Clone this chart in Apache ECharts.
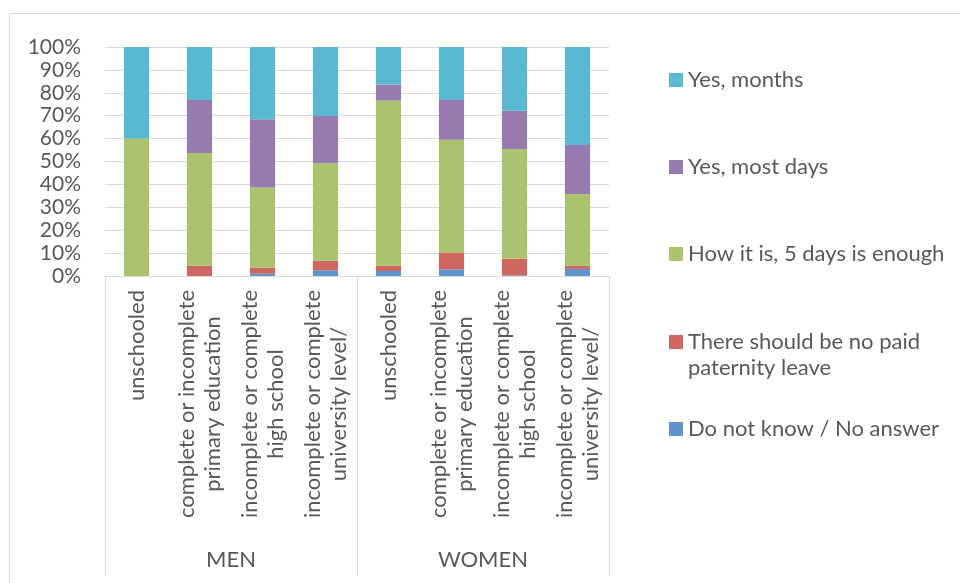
<!DOCTYPE html>
<html>
<head>
<meta charset="utf-8">
<script src="https://cdn.jsdelivr.net/npm/echarts@6/dist/echarts.min.js"></script>
<style>
  html, body { margin: 0; padding: 0; background: #fff; }
  #chart { width: 960px; height: 583px; }
</style>
</head>
<body>
<div id="chart"></div>
<script>
// Education levels, shown once for men and once for women
const educationLevels = [
  'unschooled',
  'complete or incomplete\nprimary education',
  'incomplete or complete\nhigh school',
  'incomplete or complete\nuniversity level/'
];
const groups = ['MEN', 'WOMEN'];
const categories = groups.flatMap(() => educationLevels);

// Answer shares (%), one value per bar, MEN first then WOMEN
const doNotKnow = [0, 0, 1.0, 2.5, 2.2, 2.9, 0.3, 3.1];
const noPaidLeave = [0, 4.5, 2.6, 4.2, 2.3, 7.4, 7.3, 1.4];
const fiveDaysEnough = [60.0, 49.2, 35.0, 42.5, 72.1, 49.2, 47.9, 31.3];
const yesMostDays = [0, 23.2, 29.8, 20.7, 7.0, 17.4, 16.7, 21.4];
const yesMonths = [40.0, 23.1, 31.6, 30.1, 16.4, 23.1, 27.8, 42.8];

const yTicks = { min: 0, max: 100, step: 10 };

const seriesDefs = [
  { name: 'Do not know / No answer', data: doNotKnow, color: '#5E94CA' },
  { name: 'There should be no paid\npaternity leave', data: noPaidLeave, color: '#CF6761' },
  { name: 'How it is, 5 days is enough', data: fiveDaysEnough, color: '#AAC36C' },
  { name: 'Yes, most days', data: yesMostDays, color: '#957BB0' },
  { name: 'Yes, months', data: yesMonths, color: '#5AB9D1' }
];

const FONT = 'Lato';
const TEXT = '#595959';
const LINE = '#D9D9D9';
const FS = 22;
const LH = 26;

// One legend block per series so each entry sits at its own height;
// two-line names get a blank first line so the swatch lines up with the first text line
const legendCenters = {
  'Yes, months': 80,
  'Yes, most days': 167,
  'How it is, 5 days is enough': 254,
  'There should be no paid\npaternity leave': 342,
  'Do not know / No answer': 429
};
const legends = seriesDefs.slice().reverse().map(s => {
  const twoLine = s.name.indexOf('\n') >= 0;
  return {
    data: [s.name],
    orient: 'vertical',
    left: 669,
    top: twoLine ? legendCenters[s.name] - LH * 1.5 : legendCenters[s.name] - LH / 2,
    icon: 'rect',
    itemWidth: 14,
    itemHeight: 14,
    selectedMode: false,
    padding: 0,
    formatter: name => (name.indexOf('\n') >= 0 ? ' \n' + name : name),
    textStyle: { fontFamily: FONT, fontSize: FS, color: TEXT, lineHeight: LH }
  };
});

const option = {
  backgroundColor: '#fff',
  animation: false,
  textStyle: { fontFamily: FONT },
  graphic: [{
    type: 'rect',
    shape: { x: 9.5, y: 13.5, width: 1000, height: 700 },
    style: { fill: 'none', stroke: LINE, lineWidth: 1 },
    silent: true,
    z: -10
  }],
  legend: legends,
  grid: { left: 105, right: 351, top: 47, bottom: 307, containLabel: false },
  xAxis: [
    {
      type: 'category',
      data: categories,
      position: 'bottom',
      axisLine: { show: true, lineStyle: { color: LINE, width: 1 } },
      axisTick: { show: false },
      axisLabel: {
        interval: 0,
        rotate: 90,
        margin: 14,
        color: TEXT,
        fontFamily: FONT,
        fontSize: FS,
        lineHeight: LH,
        formatter: v => v.split('\n').map(s => '{c|' + s + '}').join('\n'),
        rich: { c: { align: 'center', fontFamily: FONT, fontSize: FS, color: TEXT, lineHeight: LH } }
      }
    },
    {
      type: 'category',
      data: groups,
      position: 'bottom',
      axisLine: { show: false },
      axisTick: { show: true, interval: 0, length: 300, lineStyle: { color: LINE, width: 1 } },
      axisLabel: { interval: 0, margin: 273, color: TEXT, fontFamily: FONT, fontSize: FS }
    }
  ],
  yAxis: {
    type: 'value',
    min: yTicks.min,
    max: yTicks.max,
    interval: yTicks.step,
    axisLine: { show: false },
    axisTick: { show: false },
    splitLine: { lineStyle: { color: LINE, width: 1 } },
    axisLabel: { formatter: '{value}%', color: TEXT, fontFamily: FONT, fontSize: 21, margin: 24 }
  },
  series: seriesDefs.map(s => ({
    name: s.name,
    type: 'bar',
    stack: 'total',
    xAxisIndex: 0,
    barWidth: '40%',
    data: s.data,
    itemStyle: { color: s.color },
    emphasis: { disabled: true }
  }))
};

const chart = echarts.init(document.getElementById('chart'), null, { renderer: 'canvas' });
chart.setOption(option);
</script>
</body>
</html>
